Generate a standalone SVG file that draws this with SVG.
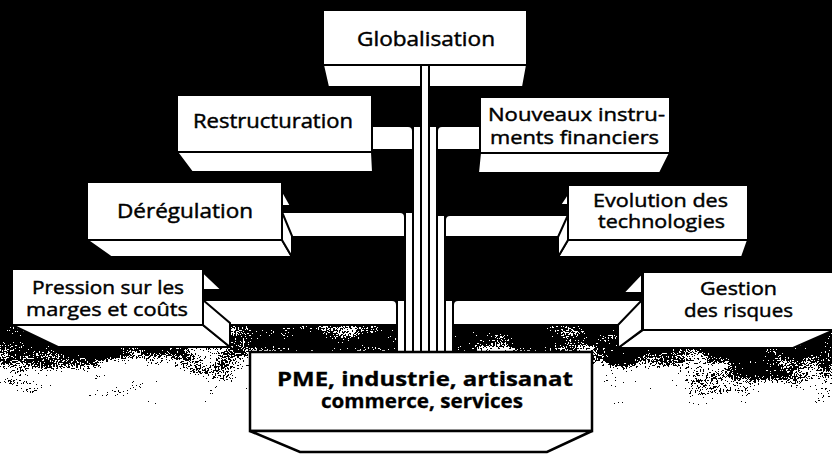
<svg xmlns="http://www.w3.org/2000/svg" width="832" height="454" viewBox="0 0 832 454">
<style>
  .face{fill:#fff;stroke:#000;stroke-width:2;stroke-linejoin:miter}
  .pipe{fill:#fff;stroke:#000;stroke-width:2}
  .t{font-family:"Open Sans","Noto Sans","Liberation Sans",sans-serif;font-size:19px;fill:#000;stroke:#000;stroke-width:0.45}
  .b{font-weight:bold;stroke-width:0.3}
</style>
<defs>
  <linearGradient id="fade" x1="0" y1="316" x2="0" y2="386" gradientUnits="userSpaceOnUse">
    <stop offset="0" stop-color="#000" stop-opacity="1"/>
    <stop offset="0.25" stop-color="#000" stop-opacity="0.75"/>
    <stop offset="0.5" stop-color="#000" stop-opacity="0.5"/>
    <stop offset="0.75" stop-color="#000" stop-opacity="0.22"/>
    <stop offset="1" stop-color="#000" stop-opacity="0"/>
  </linearGradient>
  <radialGradient id="blot">
    <stop offset="0" stop-color="#000" stop-opacity="0.8"/>
    <stop offset="0.6" stop-color="#000" stop-opacity="0.4"/>
    <stop offset="1" stop-color="#000" stop-opacity="0"/>
  </radialGradient>
  <filter id="grain" x="0" y="300" width="832" height="105" filterUnits="userSpaceOnUse" color-interpolation-filters="sRGB">
    <feTurbulence type="fractalNoise" baseFrequency="0.6" numOctaves="2" seed="5" result="hi"/>
    <feTurbulence type="fractalNoise" baseFrequency="0.025 0.05" numOctaves="3" seed="11" result="lo"/>
    <feColorMatrix in="hi" type="matrix" values="0 0 0 0 0  0 0 0 0 0  0 0 0 0 0  1 0 0 0 0" result="hia"/>
    <feColorMatrix in="lo" type="matrix" values="0 0 0 0 0  0 0 0 0 0  0 0 0 0 0  1 0 0 0 0" result="loa"/>
    <feComposite in="SourceGraphic" in2="hia" operator="arithmetic" k1="0" k2="0.6" k3="0.8" k4="-0.2" result="s1"/>
    <feComposite in="s1" in2="loa" operator="arithmetic" k1="0" k2="1" k3="0.8" k4="-0.4" result="s2"/>
    <feComponentTransfer in="s2">
      <feFuncA type="discrete" tableValues="0 1"/>
    </feComponentTransfer>
  </filter>
</defs>

<g id="background">
  <rect width="832" height="454" fill="#fff"/>
  <rect width="832" height="318" fill="#000"/>
  <g filter="url(#grain)">
    <rect x="0" y="300" width="832" height="105" fill="url(#fade)"/>
    <ellipse cx="50" cy="345" rx="90" ry="32" fill="url(#blot)"/>
    <ellipse cx="765" cy="366" rx="95" ry="32" fill="url(#blot)"/>
    <ellipse cx="640" cy="352" rx="70" ry="18" fill="url(#blot)"/>
    <ellipse cx="310" cy="340" rx="90" ry="14" fill="url(#blot)"/>
    <ellipse cx="530" cy="340" rx="90" ry="14" fill="url(#blot)"/>
  </g>
</g>

<g id="node-globalisation">
  <rect class="face" x="323" y="10" width="204" height="55"/>
  <polygon class="face" points="323,65 527,65 523,87 328,87"/>
  <text class="t" x="357" y="46" style="font-size:20px" textLength="138" lengthAdjust="spacingAndGlyphs">Globalisation</text>
</g>

<g id="connectors">
  <rect class="pipe" x="421" y="65" width="8" height="289"/>
  <rect class="pipe" x="413" y="126" width="8" height="228"/>
  <path class="pipe" d="M372,126 H408 Q413,126 413,131 V150 H372 Z"/>
  <rect class="pipe" x="405" y="212" width="8" height="142"/>
  <path class="pipe" d="M282,212 H400 Q405,212 405,217 V237 H282 Z"/>
  <rect class="pipe" x="397" y="300" width="8" height="54"/>
  <path class="pipe" d="M203,300 H392 Q397,300 397,305 V325 H203 Z"/>
  <rect class="pipe" x="429" y="126" width="8" height="228"/>
  <path class="pipe" d="M480,126 H442 Q437,126 437,131 V150 H480 Z"/>
  <rect class="pipe" x="437" y="215" width="8" height="139"/>
  <path class="pipe" d="M568,215 H450 Q445,215 445,220 V237 H568 Z"/>
  <rect class="pipe" x="445" y="300" width="8" height="54"/>
  <path class="pipe" d="M642,300 H458 Q453,300 453,305 V325 H642 Z"/>
</g>

<g id="node-restructuration">
  <rect class="face" x="177" y="95" width="195" height="57"/>
  <polygon class="face" points="177,152 372,152 373,172 192,172"/>
  <text class="t" x="193" y="128" style="font-size:20px" textLength="160" lengthAdjust="spacingAndGlyphs">Restructuration</text>
</g>

<g id="node-nouveaux-instruments">
  <rect class="face" x="480" y="97" width="190" height="56"/>
  <polygon class="face" points="480,153 670,153 660,173 478,173"/>
  <text class="t" x="488" y="121" textLength="177" lengthAdjust="spacingAndGlyphs">Nouveaux instru-</text>
  <text class="t" x="490" y="144" textLength="169" lengthAdjust="spacingAndGlyphs">ments financiers</text>
</g>

<g id="node-deregulation">
  <rect class="face" x="87" y="182" width="195" height="58"/>
  <polygon class="face" points="87,240 282,240 292,257 111,257"/>
  <polygon class="face" points="282,190 291,206 282,206"/>
  <polygon class="face" points="282,212 292,236 292,257 282,240"/>
  <text class="t" x="117" y="218" style="font-size:20px" textLength="136" lengthAdjust="spacingAndGlyphs">Dérégulation</text>
</g>

<g id="node-evolution">
  <rect class="face" x="568" y="185" width="180" height="55"/>
  <polygon class="face" points="568,240 748,240 742,257 558,257"/>
  <polygon class="face" points="568,193 560,205 568,205"/>
  <polygon class="face" points="568,215 568,240 558,257 558,237"/>
  <text class="t" x="593" y="207" textLength="135" lengthAdjust="spacingAndGlyphs">Evolution des</text>
  <text class="t" x="598" y="228" textLength="127" lengthAdjust="spacingAndGlyphs">technologies</text>
</g>

<g id="node-pression">
  <rect class="face" x="12" y="269" width="191" height="56"/>
  <polygon class="face" points="12,325 203,325 230,347 58,347"/>
  <polygon class="face" points="203,272 222,290 203,290"/>
  <polygon class="face" points="203,300 230,323 230,347 203,325"/>
  <text class="t" x="32" y="294" textLength="152" lengthAdjust="spacingAndGlyphs">Pression sur les</text>
  <text class="t" x="26" y="316" textLength="162" lengthAdjust="spacingAndGlyphs">marges et coûts</text>
</g>

<g id="node-gestion">
  <rect class="face" x="643" y="272" width="192" height="58"/>
  <polygon class="face" points="643,330 834,330 793,348 618,348"/>
  <polygon class="face" points="642,273 623,293 642,293"/>
  <polygon class="face" points="642,300 642,330 618,348 618,325"/>
  <text class="t" x="700" y="295" textLength="77" lengthAdjust="spacingAndGlyphs">Gestion</text>
  <text class="t" x="684" y="317" textLength="109" lengthAdjust="spacingAndGlyphs">des risques</text>
</g>

<g id="node-pme">
  <rect class="face" x="250" y="352" width="342" height="79" style="stroke-width:2.5"/>
  <polygon class="face" points="250,431 592,431 547,452 300,452" style="stroke-width:2.5"/>
  <text class="t b" x="277" y="386" textLength="296" lengthAdjust="spacingAndGlyphs">PME, industrie, artisanat</text>
  <text class="t b" x="321" y="408" textLength="202" lengthAdjust="spacingAndGlyphs">commerce, services</text>
</g>
</svg>
